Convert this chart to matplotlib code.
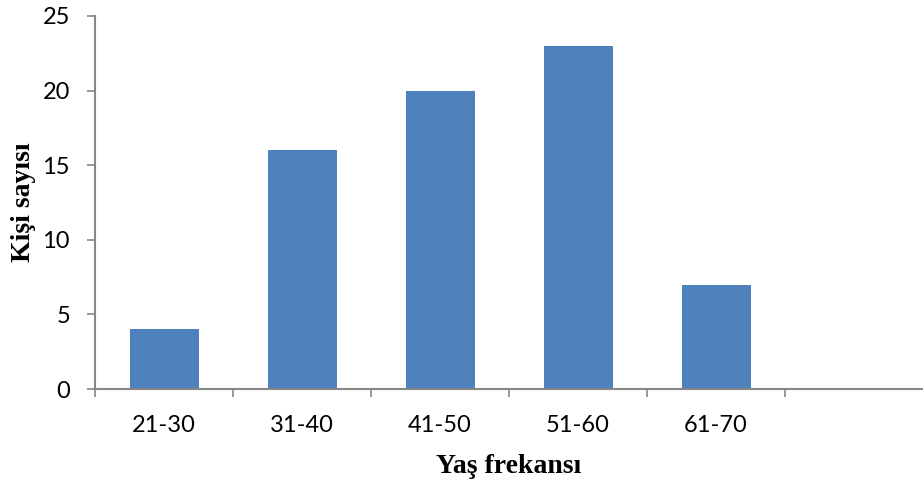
import matplotlib
matplotlib.use("Agg")
import matplotlib.pyplot as plt
import numpy as np

categories = ["21-30", "31-40", "41-50", "51-60", "61-70", ""]
values = [4, 16, 20, 23, 7, 0]
yticks = [0, 5, 10, 15, 20, 25]

fig = plt.figure(figsize=(9.23, 4.82), dpi=100)
ax = fig.add_axes([95/923, 1-389/482, 1-95/923, (389-16)/482])

x = np.arange(len(categories))
ax.bar(x[:5], values[:5], width=0.5, color="#4F81BD")

ax.set_xlim(-0.5, 5.5)
ax.set_ylim(0, 25)
ax.set_yticks(yticks)
ax.set_xticks(x[:5])
ax.set_xticklabels(categories[:5])
ax.set_xticks(np.arange(-0.5, 5.0, 1.0), minor=True)

gray = "#868686"
for s in ["top", "right"]:
    ax.spines[s].set_visible(False)
for s in ["left", "bottom"]:
    ax.spines[s].set_color(gray)
    ax.spines[s].set_linewidth(1.5)

tick_font = "Lato"
ax.tick_params(axis="y", which="major", length=6, width=1.2, color=gray, pad=12,
               labelsize=17, labelfontfamily=tick_font)
ax.tick_params(axis="x", which="major", length=0, pad=19, labelsize=17,
               labelfontfamily=tick_font)
ax.tick_params(axis="x", which="minor", length=6, width=1.2, color=gray)

ax.set_xlabel("Yaş frekansı", fontsize=20, fontweight="bold",
              family="Liberation Serif", labelpad=13)
ax.set_ylabel("Kişi sayısı", fontsize=20, fontweight="bold",
              family="Liberation Serif", labelpad=5)

fig.savefig("out.png", dpi=100)
